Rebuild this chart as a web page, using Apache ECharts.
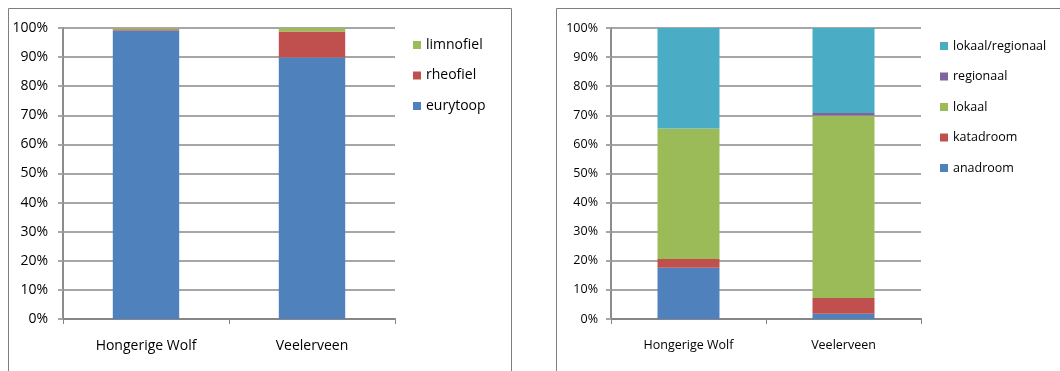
<!DOCTYPE html>
<html>
<head>
<meta charset="utf-8">
<script src="https://cdn.jsdelivr.net/npm/echarts@6/dist/echarts.min.js"></script>
<style>
  html, body { margin: 0; padding: 0; background: #fff; }
  #chart { width: 1060px; height: 371px; }
</style>
</head>
<body>
<div id="chart"></div>
<script>
// Locations
const categories = ['Hongerige Wolf', 'Veelerveen'];

// Stroming preference (percent of individuals)
const eurytoop = [99.1, 89.9];
const rheofiel = [0.5, 8.9];
const limnofiel = [0.4, 1.2];

// Migration type (percent of individuals)
const anadroom = [17.6, 1.8];
const katadroom = [3.0, 5.4];
const lokaal = [44.9, 62.7];
const regionaal = [0, 0.9];
const lokaalRegionaal = [34.5, 29.2];

// Axis range in percent
const yMin = 0, yMax = 100, yStep = 10;

const FONT = 'Open Sans';
const COLORS = {
  blue: '#4F81BD', red: '#C0504D', green: '#9BBB59', purple: '#8064A2', cyan: '#4BACC6'
};

function yAxisFor(gridIndex, size, margin) {
  return {
    type: 'value', gridIndex, min: yMin, max: yMax, interval: yStep,
    axisLine: { show: true, lineStyle: { color: '#8c8c8c', width: 2 } },
    axisTick: { show: true, length: 5, lineStyle: { color: '#a6a6a6', width: 2 } },
    splitLine: { show: true, lineStyle: { color: '#a6a6a6', width: 2 } },
    axisLabel: { formatter: '{value}%', color: '#000', fontFamily: FONT, fontSize: size, margin }
  };
}

function xAxisFor(gridIndex, size) {
  return {
    type: 'category', gridIndex, data: categories,
    axisLine: { show: true, lineStyle: { color: '#868686', width: 2 } },
    axisTick: { show: true, length: 5, lineStyle: { color: '#868686', width: 1 } },
    axisLabel: { color: '#000', fontFamily: FONT, fontSize: size, margin: 20 }
  };
}

function bar(name, data, color, idx, stack) {
  return {
    name, type: 'bar', stack, data, xAxisIndex: idx, yAxisIndex: idx,
    barWidth: '40%', itemStyle: { color }
  };
}

const chart = echarts.init(document.getElementById('chart'), null, { renderer: 'canvas' });
chart.setOption({
  animation: false,
  backgroundColor: '#fff',
  graphic: [
    { type: 'rect', shape: { x: 8.5, y: 8.5, width: 503, height: 420 },
      style: { fill: 'none', stroke: '#7f7f7f', lineWidth: 1 }, z: -10 },
    { type: 'rect', shape: { x: 556.5, y: 8.5, width: 520, height: 420 },
      style: { fill: 'none', stroke: '#7f7f7f', lineWidth: 1 }, z: -10 }
  ],
  grid: [
    { left: 63, top: 28, width: 332, height: 291 },
    { left: 611, top: 28, width: 310, height: 291 }
  ],
  xAxis: [xAxisFor(0, 14), xAxisFor(1, 12.5)],
  yAxis: [yAxisFor(0, 14, 15), yAxisFor(1, 12.5, 13)],
  legend: [
    {
      data: ['limnofiel', 'rheofiel', 'eurytoop'],
      orient: 'vertical', left: 413, top: 37, padding: 0,
      itemWidth: 8, itemHeight: 8, itemGap: 14.5, icon: 'rect',
      textStyle: { fontFamily: FONT, fontSize: 14, color: '#000', lineHeight: 16 }
    },
    {
      data: ['lokaal/regionaal', 'regionaal', 'lokaal', 'katadroom', 'anadroom'],
      orient: 'vertical', left: 940, top: 38, padding: 0,
      itemWidth: 8, itemHeight: 8, itemGap: 14.5, icon: 'rect',
      textStyle: { fontFamily: FONT, fontSize: 12.5, color: '#000', lineHeight: 16 }
    }
  ],
  series: [
    bar('eurytoop', eurytoop, COLORS.blue, 0, 'a'),
    bar('rheofiel', rheofiel, COLORS.red, 0, 'a'),
    bar('limnofiel', limnofiel, COLORS.green, 0, 'a'),
    bar('anadroom', anadroom, COLORS.blue, 1, 'b'),
    bar('katadroom', katadroom, COLORS.red, 1, 'b'),
    bar('lokaal', lokaal, COLORS.green, 1, 'b'),
    bar('regionaal', regionaal, COLORS.purple, 1, 'b'),
    bar('lokaal/regionaal', lokaalRegionaal, COLORS.cyan, 1, 'b')
  ]
});
</script>
</body>
</html>
